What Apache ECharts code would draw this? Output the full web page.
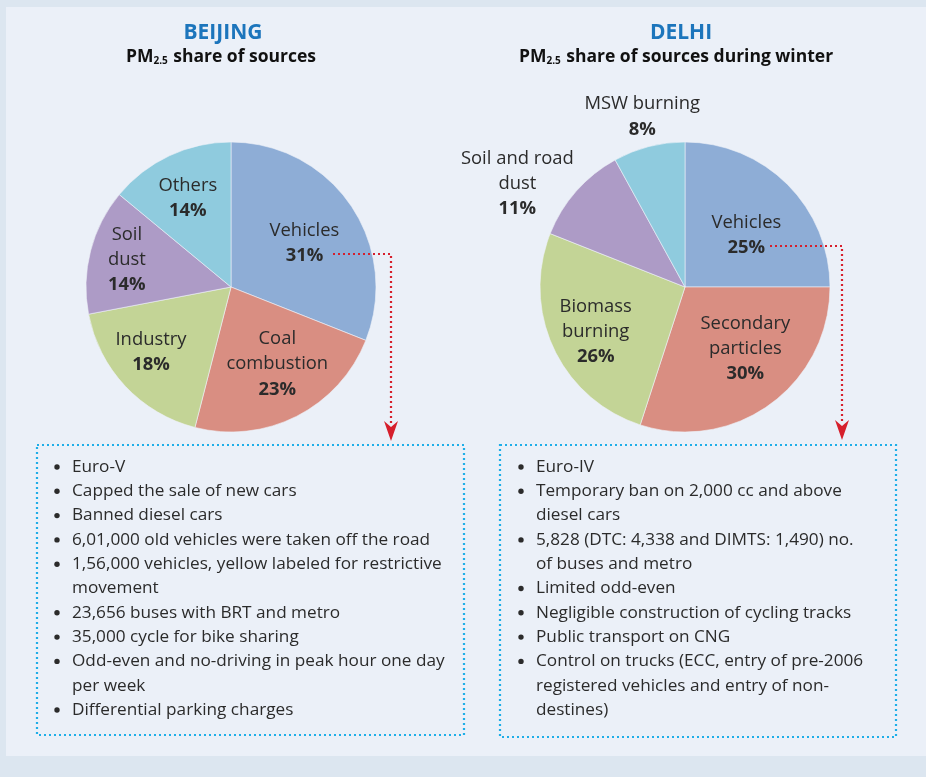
<!DOCTYPE html>
<html>
<head>
<meta charset="utf-8">
<script src="https://cdn.jsdelivr.net/npm/echarts@6/dist/echarts.min.js"></script>
<style>
  html, body { margin: 0; padding: 0; background: #dce6f0; }
  #chart { width: 926px; height: 777px; }
</style>
</head>
<body>
<div id="chart"></div>
<script>
// data
var beijingSources = ['Vehicles', 'Coal\ncombustion', 'Industry', 'Soil\ndust', 'Others'];
var beijingShares = [31, 23, 18, 14, 14];
var delhiSources = ['Vehicles', 'Secondary\nparticles', 'Biomass\nburning', 'Soil and road\ndust', 'MSW burning'];
var delhiShares = [25, 30, 26, 11, 8];

var beijingMeasures = [
  'Euro-V',
  'Capped the sale of new cars',
  'Banned diesel cars',
  '6,01,000 old vehicles were taken off the road',
  '1,56,000 vehicles, yellow labeled for restrictive\nmovement',
  '23,656 buses with BRT and metro',
  '35,000 cycle for bike sharing',
  'Odd-even and no-driving in peak hour one day\nper week',
  'Differential parking charges'
];
var delhiMeasures = [
  'Euro-IV',
  'Temporary ban on 2,000 cc and above\ndiesel cars',
  '5,828 (DTC: 4,338 and DIMTS: 1,490) no.\nof buses and metro',
  'Limited odd-even',
  'Negligible construction of cycling tracks',
  'Public transport on CNG',
  'Control on trucks (ECC, entry of pre-2006\nregistered vehicles and entry of non-\ndestines)'
];

var sliceColors = ['#8eadd6', '#d98e82', '#c3d496', '#ad9bc6', '#8fcbde'];
var FONT = '"Open Sans", "Noto Sans", sans-serif';

// nudges from the default "inside" label spot
var beijingNudge = [[11, -1], [12, 10], [-25, 14], [-31, -8], [-11, -20]];
var delhiNudge = [[8, 2], [16, 1], [-21, 13], [-111, -53], [-24, -97]];

var chartDom = document.getElementById('chart');
var chart = echarts.init(chartDom);

function pieData(names, values) {
  return names.map(function (n, i) {
    return { name: n, value: values[i], itemStyle: { color: sliceColors[i] } };
  });
}

function labelFormatter(p) {
  var lines = p.name.split('\n').map(function (s) { return '{n|' + s + '}'; });
  lines.push('{v|' + p.value + '%}');
  return lines.join('\n');
}

var labelRich = {
  n: { fontFamily: FONT, fontSize: 18.4, color: '#2b2b2b', lineHeight: 25 },
  v: { fontFamily: FONT, fontSize: 18.4, fontWeight: 'bold', color: '#2b2b2b', lineHeight: 26 }
};

function pieSeries(center, names, values, nudge) {
  return {
    type: 'pie',
    center: center,
    radius: 145,
    startAngle: 90,
    clockwise: true,
    avoidLabelOverlap: false,
    animation: false,
    silent: true,
    data: pieData(names, values),
    itemStyle: { borderColor: '#eef2f8', borderWidth: 0.6 },
    label: {
      show: true,
      position: 'inside',
      formatter: labelFormatter,
      rich: labelRich,
      align: 'center'
    },
    labelLine: { show: false },
    labelLayout: function (p) {
      var d = nudge[p.dataIndex];
      return { dx: d[0], dy: d[1] };
    }
  };
}

function listGraphics(items, bulletX, textX, startY) {
  var els = [];
  var y = startY;
  items.forEach(function (item) {
    item.split('\n').forEach(function (line, k) {
      if (k === 0) {
        els.push({
          type: 'circle', shape: { cx: bulletX, cy: y, r: 2.7 },
          style: { fill: '#2b2b2b' }, silent: true
        });
      }
      els.push({
        type: 'text', x: textX, y: y,
        style: {
          text: line, fill: '#2b2b2b', font: '17.2px ' + FONT,
          textVerticalAlign: 'middle', textAlign: 'left'
        },
        silent: true
      });
      y += 24.3;
    });
  });
  return els;
}

var dash = [2, 3];
var dashW = 2.2;

var graphics = [
  { type: 'rect', z: -10, shape: { x: 6, y: 7, width: 920, height: 749 }, style: { fill: '#ebf0f8' }, silent: true },
  // measure boxes
  { type: 'rect', shape: { x: 37, y: 445, width: 427, height: 290 },
    style: { fill: 'none', stroke: '#1eaee8', lineDash: dash, lineWidth: dashW }, silent: true },
  { type: 'rect', shape: { x: 500, y: 445, width: 396, height: 292 },
    style: { fill: 'none', stroke: '#1eaee8', lineDash: dash, lineWidth: dashW }, silent: true },
  // red connectors, drawn over the pies
  { type: 'polyline', z: 100, shape: { points: [[333, 254], [391, 254], [391, 424]] },
    style: { fill: 'none', stroke: '#d61f2c', lineDash: dash, lineWidth: dashW }, silent: true },
  { type: 'polygon', z: 100, shape: { points: [[384, 421], [391, 427], [398, 421], [391, 441]] },
    style: { fill: '#d61f2c' }, silent: true },
  { type: 'polyline', z: 100, shape: { points: [[770, 246], [842, 246], [842, 423]] },
    style: { fill: 'none', stroke: '#d61f2c', lineDash: dash, lineWidth: dashW }, silent: true },
  { type: 'polygon', z: 100, shape: { points: [[835, 420], [842, 426], [849, 420], [842, 440]] },
    style: { fill: '#d61f2c' }, silent: true }
];
graphics = graphics.concat(listGraphics(beijingMeasures, 57, 72, 467));
graphics = graphics.concat(listGraphics(delhiMeasures, 521, 536, 467));

var subRich = {
  s: { fontFamily: FONT, fontSize: 17.5, fontWeight: 'bold', color: '#111' },
  sub: { fontFamily: FONT, fontSize: 10, fontWeight: 'bold', color: '#111', verticalAlign: 'bottom', lineHeight: 14, padding: [9, 1, 0, 0] }
};

var option = {
  backgroundColor: '#dce6f0',
  title: [
    { text: 'BEIJING', left: 218, top: 18, textAlign: 'center',
      textStyle: { fontFamily: FONT, fontSize: 21, fontWeight: 'bold', color: '#1c75bc' } },
    { text: '{s|PM}{sub|2.5}{s| share of sources}', left: 216, top: 43, textAlign: 'center',
      textStyle: { rich: subRich } },
    { text: 'DELHI', left: 676, top: 18, textAlign: 'center',
      textStyle: { fontFamily: FONT, fontSize: 21, fontWeight: 'bold', color: '#1c75bc' } },
    { text: '{s|PM}{sub|2.5}{s| share of sources during winter}', left: 671, top: 43, textAlign: 'center',
      textStyle: { rich: subRich } }
  ],
  graphic: graphics,
  series: [
    pieSeries([231, 287], beijingSources, beijingShares, beijingNudge),
    pieSeries([685, 287], delhiSources, delhiShares, delhiNudge)
  ]
};

chart.setOption(option);
</script>
</body>
</html>
